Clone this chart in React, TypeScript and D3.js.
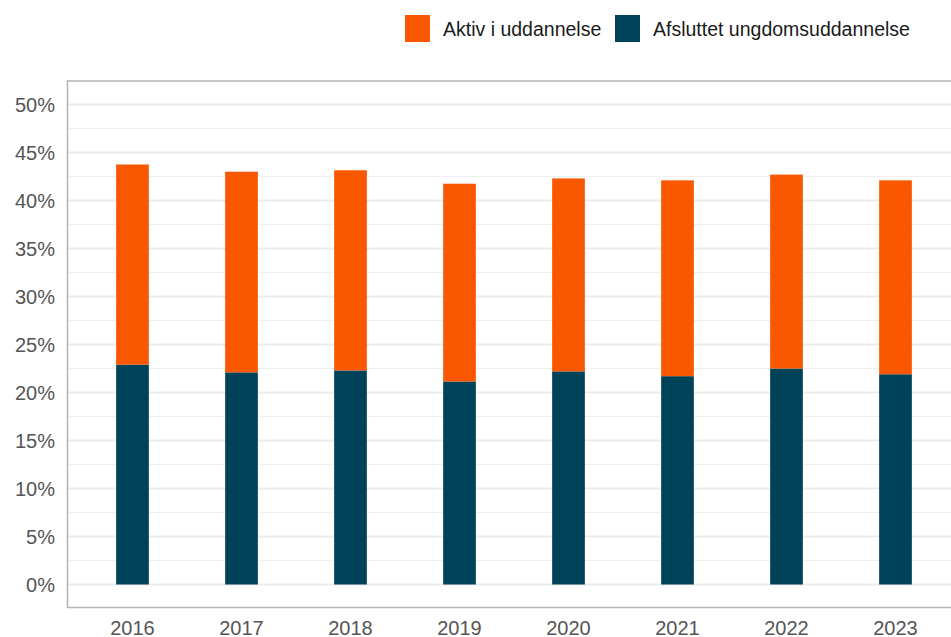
import * as d3 from 'd3';

// Chart data (share of cohort, %)
const YEARS = ['2016', '2017', '2018', '2019', '2020', '2021', '2022', '2023'];
const AFSLUTTET = [22.9, 22.1, 22.3, 21.15, 22.2, 21.7, 22.5, 21.9];
const AKTIV = [20.85, 20.9, 20.85, 20.6, 20.1, 20.4, 20.2, 20.2];
const Y_TICKS = [0, 5, 10, 15, 20, 25, 30, 35, 40, 45, 50];
const MINOR_TICKS = [2.5, 7.5, 12.5, 17.5, 22.5, 27.5, 32.5, 37.5, 42.5, 47.5];
const SERIES = [
  { key: 'aktiv', label: 'Aktiv i uddannelse', color: '#F95700' },
  { key: 'afsluttet', label: 'Afsluttet ungdomsuddannelse', color: '#004359' },
];

const W = 951;
const H = 637;
const PANEL = { left: 67.5, top: 81, right: 953, bottom: 607.5 };
const FONT = '"Liberation Sans", Arial, sans-serif';

export default function App() {
  const y = d3.scaleLinear().domain([0, 50]).range([584.5, 104.5]);
  const x = d3
    .scaleBand<string>()
    .domain(YEARS)
    .range([78, 950])
    .paddingInner(0.7)
    .paddingOuter(0.35);

  const stacked = YEARS.map((yr, i) => ({
    year: yr,
    low: AFSLUTTET[i],
    high: AFSLUTTET[i] + AKTIV[i],
  }));

  return (
    <svg
      width={W}
      height={H}
      style={{ position: 'absolute', left: 0, top: 0, fontFamily: FONT }}
    >
      <rect width={W} height={H} fill="#fff" />

      {/* minor + major gridlines */}
      {MINOR_TICKS.map((t) => (
        <line
          key={'m' + t}
          x1={PANEL.left}
          x2={PANEL.right}
          y1={y(t)}
          y2={y(t)}
          stroke="#efefef"
          strokeWidth={1}
        />
      ))}
      {Y_TICKS.map((t) => (
        <line
          key={'g' + t}
          x1={PANEL.left}
          x2={PANEL.right}
          y1={y(t)}
          y2={y(t)}
          stroke="#ebebeb"
          strokeWidth={2}
        />
      ))}

      {/* bars */}
      {stacked.map((d) => (
        <g key={d.year}>
          <rect
            x={x(d.year)}
            width={x.bandwidth()}
            y={y(d.low)}
            height={y(0) - y(d.low)}
            fill={SERIES[1].color}
          />
          <rect
            x={x(d.year)}
            width={x.bandwidth()}
            y={y(d.high)}
            height={y(d.low) - y(d.high)}
            fill={SERIES[0].color}
          />
        </g>
      ))}

      {/* panel frame: left, top, bottom */}
      <path
        d={`M${PANEL.right},${PANEL.top}H${PANEL.left}V${PANEL.bottom}H${PANEL.right}`}
        fill="none"
        stroke="#b5b5b5"
        strokeWidth={1.6}
      />

      {/* y axis labels */}
      {Y_TICKS.map((t) => (
        <text
          key={'y' + t}
          x={55}
          y={y(t)}
          dy="0.36em"
          textAnchor="end"
          fontSize={20}
          fill="#555"
        >
          {t}%
        </text>
      ))}

      {/* x axis labels */}
      {YEARS.map((yr) => (
        <text
          key={'x' + yr}
          x={(x(yr) ?? 0) + x.bandwidth() / 2}
          y={635}
          textAnchor="middle"
          fontSize={20}
          fill="#555"
        >
          {yr}
        </text>
      ))}

      {/* legend */}
      <g>
        <rect x={405} y={15} width={25} height={27} fill={SERIES[0].color} />
        <text x={443} y={28.5} dy="0.36em" fontSize={19.5} fill="#1a1a1a">
          {SERIES[0].label}
        </text>
        <rect x={615} y={15} width={25} height={27} fill={SERIES[1].color} />
        <text x={653} y={28.5} dy="0.36em" fontSize={19.5} fill="#1a1a1a">
          {SERIES[1].label}
        </text>
      </g>
    </svg>
  );
}
